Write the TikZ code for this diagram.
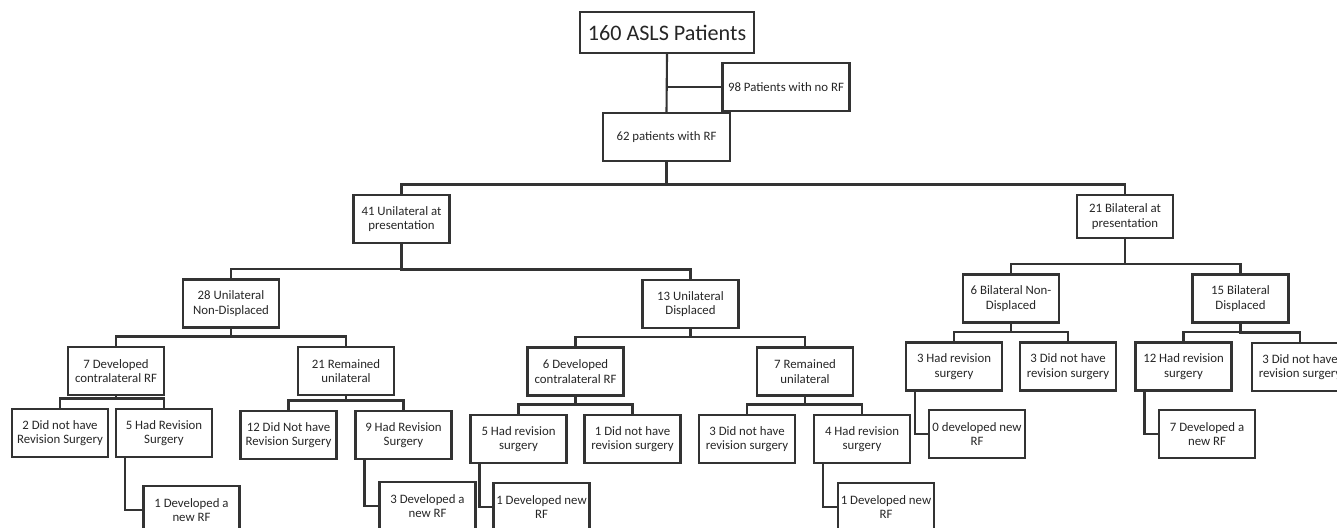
\documentclass[tikz,border=0pt]{standalone}
\usepackage{fontspec}
\setmainfont{Carlito}
\usepackage{tikz}
\usetikzlibrary{calc,positioning}
\tikzset{%
	block/.style = {draw=black!80, line width=1.2pt, rectangle, minimum width=1.92cm, minimum height=0.96cm, inner sep=1pt, align=center, text=black!85, font=\fontsize{7.3}{8.3}\selectfont},
	title/.style = {block, minimum width=3.48cm, minimum height=0.82cm, font=\fontsize{12.6}{15}\selectfont},
	wide/.style  = {block, minimum width=2.54cm},
	link/.style  = {draw=black!80, line width=1.2pt},
}
\begin{document}
\begin{tikzpicture}[x=0.02cm, y=-0.02cm]
		\useasboundingbox (0,0) rectangle (1337,527);
		\clip (0,0) rectangle (1337,527);
		\node[title] (top) at (667,32.5) {160 ASLS Patients};
		\node[wide] (norf) at (786,87) {98 Patients with no RF};
		\node[wide] (rf) at (666.5,137) {62 patients with RF};
		\node[block] (uni) at (401.5,219) {41 Unilateral at\\presentation};
		\node[block, minimum height=0.86cm] (bil) at (1125,216.5) {21 Bilateral at\\presentation};
		\node[block] (uniND) at (231,303.5) {28 Unilateral\\Non-Displaced};
		\node[block] (uniD) at (690.5,304) {13 Unilateral\\Displaced};
		\node[block] (bilND) at (1011,298.5) {6 Bilateral Non-\\Displaced};
		\node[block] (bilD) at (1240.5,298.5) {15 Bilateral\\Displaced};
		\node[block] (uniNDc) at (116,371) {7 Developed\\contralateral RF};
		\node[block] (uniNDr) at (346,371) {21 Remained\\unilateral};
		\node[block] (uniDc) at (575.5,371.5) {6 Developed\\contralateral RF};
		\node[block] (uniDr) at (805,371.5) {7 Remained\\unilateral};
		\node[block] (bilNDrev) at (954,366.5) {3 Had revision\\surgery};
		\node[block] (bilNDno) at (1068,366.5) {3 Did not have\\revision surgery};
		\node[block] (bilDrev) at (1183.5,366.5) {12 Had revision\\surgery};
		\node[block] (bilDno) at (1300,367) {3 Did not have\\revision surgery};
		\node[block] (uniNDcno) at (60,433) {2 Did not have\\Revision Surgery};
		\node[block] (uniNDcrev) at (164,433) {5 Had Revision\\Surgery};
		\node[block] (uniNDrno) at (288.5,435) {12 Did Not have\\Revision Surgery};
		\node[block] (uniNDrrev) at (403.5,435) {9 Had Revision\\Surgery};
		\node[block] (uniDcrev) at (518.5,439) {5 Had revision\\surgery};
		\node[block] (uniDcno) at (632.5,439) {1 Did not have\\revision surgery};
		\node[block] (uniDrno) at (747,439) {3 Did not have\\revision surgery};
		\node[block] (uniDrrev) at (862,439) {4 Had revision\\surgery};
		\node[block] (newA) at (191.5,510) {1 Developed a\\new RF};
		\node[block] (newB) at (427.5,506) {3 Developed a\\new RF};
		\node[block] (newC) at (541.5,507) {1 Developed new\\RF};
		\node[block] (newD) at (886,507) {1 Developed new\\RF};
		\node[block] (newE) at (977,434) {0 developed new\\RF};
		\node[block] (newF) at (1207,434) {7 Developed a\\new RF};
		\draw[link] (top.south) -- (rf.north);
		\draw[link] (norf.west) -- (norf.west -| rf.north);
		\foreach \p/\c in {rf/uni, rf/bil, uni/uniND, uni/uniD, bil/bilND, bil/bilD, uniND/uniNDc, uniND/uniNDr, uniD/uniDc, uniD/uniDr, bilND/bilNDrev, bilND/bilNDno, bilD/bilDrev, bilD/bilDno, uniNDc/uniNDcno, uniNDc/uniNDcrev, uniNDr/uniNDrno, uniNDr/uniNDrrev, uniDc/uniDcrev, uniDc/uniDcno, uniDr/uniDrno, uniDr/uniDrrev}
			\draw[link] (\c.north) -- ++(0,-9.5) -| (\p.south);
		\foreach \p/\c in {uniNDcrev/newA, uniNDrrev/newB, uniDcrev/newC, uniDrrev/newD, bilNDrev/newE, bilDrev/newF}
			\draw[link] ([xshift=0.2cm]\p.south west) |- (\c.west);
		\end{tikzpicture}
\end{document}
